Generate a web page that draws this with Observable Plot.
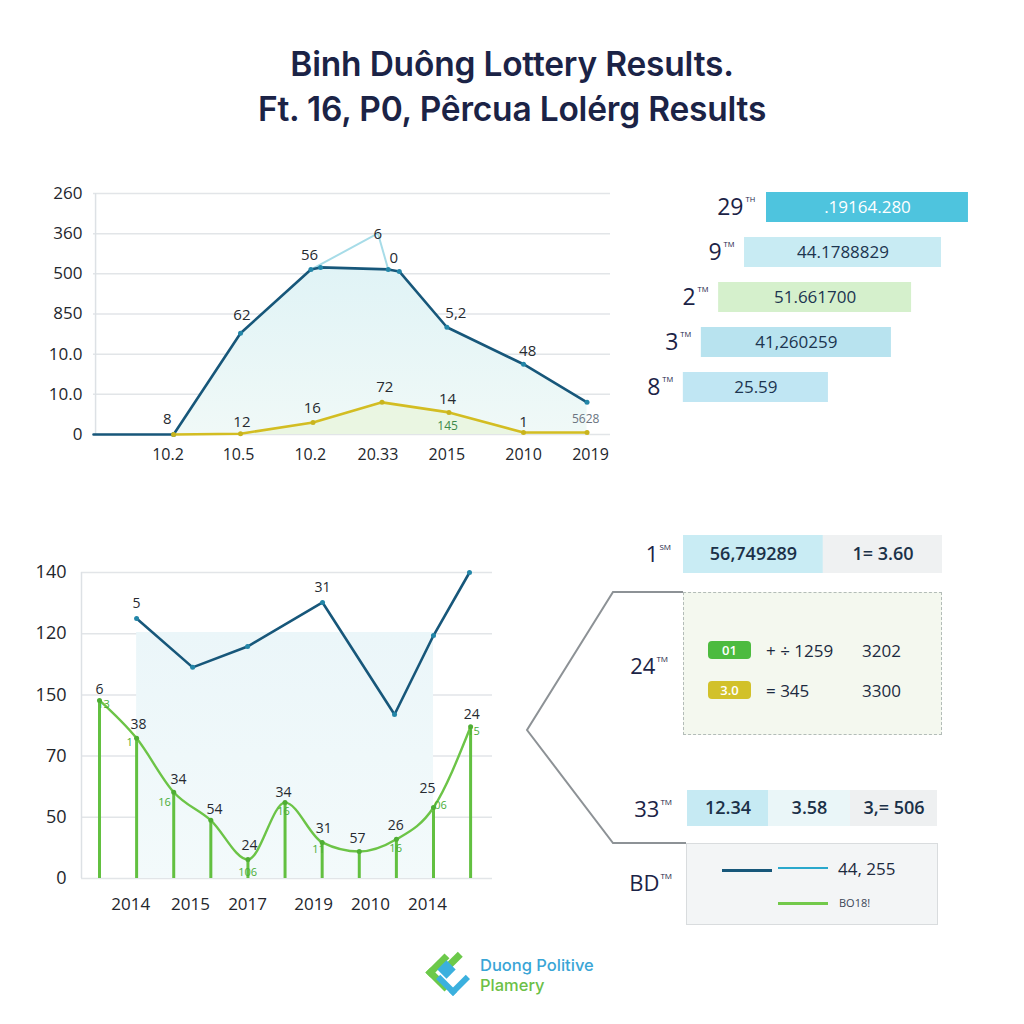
<!DOCTYPE html>
<html>
<head>
<meta charset="utf-8">
<script src="https://cdn.jsdelivr.net/npm/d3@7"></script>
<script src="https://cdn.jsdelivr.net/npm/@observablehq/plot@0.6"></script>
<style>
  html, body { margin: 0; padding: 0; background: #ffffff; }
  #page { position: relative; width: 1024px; height: 1024px; overflow: hidden; background: #ffffff;
          font-family: "Open Sans", "Noto Sans", sans-serif; color: #1b2346; }
  .title { position: absolute; left: 0; width: 1024px; text-align: center; font-family: Inter, "Noto Sans", sans-serif;
           font-weight: 600; font-size: 33.5px; color: #1b2346; letter-spacing: -0.2px; line-height: 1; }
  .rank { position: absolute; text-align: right; font-size: 22px; color: #1b2346; line-height: 1; white-space: nowrap; }
  .rank sup { font-size: 8px; vertical-align: top; position: relative; top: 1px; margin-left: 1px; }
  .dashbox { position: absolute; left: 683px; top: 592px; width: 257px; height: 141px; border: 1.5px dashed #b3bcb8;
             background: #f4f8ef; }
  .krow { position: absolute; left: 24px; height: 18px; display: flex; align-items: center; font-size: 17px; color: #1c2a40; }
  .pill { display: inline-block; width: 43px; height: 18px; border-radius: 4px; color: #fff; font-size: 13px; font-weight: 600;
          text-align: center; line-height: 18px; }
  .legbox { position: absolute; left: 686px; top: 843px; width: 250px; height: 80px; border: 1.5px solid #d9dcde; background: #f3f5f6; }
  .sw { position: absolute; height: 0; }
</style>
</head>
<body>
<div id="page"></div>
<script>
// ---------------- data ----------------
const titleLines = ["Binh Duông Lottery Results.", "Ft. 16, P0, Pêrcua Lolérg Results"];

// top-left line chart
const topXTicks  = [-0.08, 0.94, 1.98, 2.96, 3.96, 5.07, 6.04];
const topXLabels = ["10.2", "10.5", "10.2", "20.33", "2015", "2010", "2019"];
const topYTicks  = [0, 1, 2, 3, 4, 5, 6];
const topYLabels = ["0", "10.0", "10.0", "850", "500", "360", "260"];
const darkX   = [-1.16, 0, 0.97, 1.99, 2.13, 3.11, 3.27, 3.96, 5.07, 5.99];
const darkY   = [0, 0, 2.52, 4.11, 4.16, 4.11, 4.06, 2.67, 1.75, 0.80];
const lightX  = [2.03, 2.96, 3.11];
const lightY  = [4.14, 5.01, 4.11];
const yellowX = [0, 0.97, 2.02, 3.02, 3.99, 5.07, 5.99];
const yellowY = [0, 0.02, 0.30, 0.80, 0.55, 0.05, 0.05];
const topLabelText = ["8", "62", "56", "6", "0", "5,2", "48", "12", "16", "72", "14", "1"];
const topLabelX    = [-0.09, 0.99, 1.97, 2.96, 3.19, 4.09, 5.13, 0.99, 2.01, 3.06, 3.97, 5.07];
const topLabelY    = [0.37, 2.97, 4.46, 4.99, 4.39, 3.02, 2.07, 0.30, 0.65, 1.17, 0.87, 0.30];
const topSmallText = ["145", "5628"];
const topSmallX    = [3.97, 5.97];
const topSmallY    = [0.20, 0.37];

// top-right bars
const rankNums  = ["29", "9", "2", "3", "8"];
const rankSups  = ["TH", "TM", "TM", "TM", "TM"];
const barStart  = [35.0, 28.9, 21.7, 16.9, 11.9];
const barEnd    = [91.1, 83.6, 75.3, 69.7, 52.2];
const barTexts  = [".19164.280", "44.1788829", "51.661700", "41,260259", "25.59"];
const barColors = ["#4ec4de", "#c8ebf3", "#d5f0cc", "#b8e3ef", "#c0e6f3"];

// bottom-left chart
const botXTicks  = [0.84, 2.45, 3.99, 5.77, 7.30, 8.84];
const botXLabels = ["2014", "2015", "2017", "2019", "2010", "2014"];
const botYTicks  = [0, 1, 2, 3, 4, 5];
const botYLabels = ["0", "50", "70", "150", "120", "140"];
const blueX  = [1, 2.51, 3.99, 6.01, 7.95, 9, 9.97];
const blueY  = [4.25, 3.45, 3.79, 4.51, 2.68, 3.97, 5.00];
const greenX = [0, 1, 2, 3, 4, 5, 6, 7, 8, 9, 10];
const greenY = [2.91, 2.29, 1.41, 0.95, 0.31, 1.24, 0.59, 0.44, 0.64, 1.16, 2.48];
const shadeX = [1, 9];
const shadeTop = 4.02;
const botLabelText = ["6", "38", "34", "54", "24", "34", "31", "57", "26", "25", "24", "5", "31"];
const botLabelX    = [0, 1.05, 2.13, 3.10, 4.04, 4.96, 6.04, 6.95, 7.98, 8.84, 10.03, 1.0, 6.01];
const botLabelY    = [3.09, 2.52, 1.62, 1.13, 0.54, 1.41, 0.82, 0.65, 0.87, 1.47, 2.68, 4.49, 4.75];
const botSmallText = ["13", "1", "16", "106", "16", "11", "16", "06", "15"];
const botSmallX    = [0.11, 0.81, 1.75, 3.99, 4.96, 5.90, 7.98, 9.19, 10.08];
const botSmallY    = [2.84, 2.22, 1.24, 0.10, 1.09, 0.47, 0.49, 1.19, 2.40];

// bottom-right table
const row1Label = ["1", "SM"];
const row1Cells = ["56,749289", "1= 3.60"];
const row1Share = [54, 46];
const row1Colors = ["#c9ecf4", "#eff1f2"];
const row2Label = ["24", "TM"];
const keyTexts  = ["01", "3.0"];
const keyColors = ["#4cbb3f", "#d2c12a"];
const keyMid    = ["+ ÷ 1259", "= 345"];
const keyRight  = ["3202", "3300"];
const row3Label = ["33", "TM"];
const row3Cells = ["12.34", "3.58", "3,= 506"];
const row3Share = [32.4, 32.8, 34.8];
const row3Colors = ["#c6eaf3", "#eaf6f8", "#eef0f1"];
const row4Label = ["BD", "TM"];
const legendTexts = ["44, 255", "BO18!"];

// footer logo
const logoLines = ["Duong Politive", "Plamery"];

// ---------------- helpers ----------------
const page = document.getElementById("page");
function place(node, left, top) {
  node.style.position = "absolute";
  node.style.left = left + "px";
  node.style.top = top + "px";
  page.appendChild(node);
  return node;
}
function gradient(id, c0, c1) {
  return () => {
    const defs = d3.create("svg:defs");
    const g = defs.append("linearGradient").attr("id", id).attr("x1", 0).attr("y1", 0).attr("x2", 0).attr("y2", 1);
    g.append("stop").attr("offset", "0%").attr("stop-color", c0);
    g.append("stop").attr("offset", "100%").attr("stop-color", c1);
    return defs.node();
  };
}
const pts = (xs, ys) => xs.map((x, i) => ({x, y: ys[i]}));
const baseStyle = {fontFamily: "'Open Sans', 'Noto Sans', sans-serif", fontSize: "17px", color: "#23262c",
                   background: "transparent", overflow: "visible"};

// ---------------- title ----------------
titleLines.forEach((t, i) => {
  const d = document.createElement("div");
  d.className = "title";
  d.textContent = t;
  d.style.top = (i === 0 ? 48 : 93) + "px";
  page.appendChild(d);
});

// ---------------- chart 1 ----------------
{
  const tickMap = new Map(topXTicks.map((t, i) => [t, topXLabels[i]]));
  const dark = pts(darkX, darkY), light = pts(lightX, lightY), yellow = pts(yellowX, yellowY);
  const chart = Plot.plot({
    width: 630, height: 300, marginLeft: 93, marginRight: 20, marginTop: 23, marginBottom: 36,
    style: baseStyle,
    x: {domain: [-1.16, 6.33]},
    y: {domain: [0, 6]},
    marks: [
      gradient("g1", "#e0f3f6", "#f0f9f7"),
      Plot.gridY(topYTicks, {stroke: "#e2e5e8", strokeOpacity: 1, strokeWidth: 1.5}),
      Plot.ruleX([-1.13], {y1: 0, y2: 6, stroke: "#dde1e5", strokeWidth: 1.5}),
      Plot.areaY(dark.filter(d => d.x >= 0), {x: "x", y: "y", fill: "url(#g1)"}),
      Plot.areaY(yellow, {x: "x", y: "y", fill: "#e8f5dc", fillOpacity: 0.8}),
      Plot.line(light, {x: "x", y: "y", stroke: "#a7dce8", strokeWidth: 2}),
      Plot.line(dark, {x: "x", y: "y", stroke: "#17577a", strokeWidth: 2.6}),
      Plot.line(yellow, {x: "x", y: "y", stroke: "#d3bd22", strokeWidth: 2.6}),
      Plot.dot(dark.slice(1), {x: "x", y: "y", r: 2.5, fill: "#2386a8"}),
      Plot.dot(yellow, {x: "x", y: "y", r: 2.5, fill: "#c9b41e"}),
      Plot.text(topLabelText, {x: (d, i) => topLabelX[i], y: (d, i) => topLabelY[i], text: d => d, fontSize: 15, fill: "#262a30"}),
      Plot.text(topSmallText, {x: (d, i) => topSmallX[i], y: (d, i) => topSmallY[i], text: d => d, fontSize: 12,
                               fill: (d, i) => i === 0 ? "#3d8a4a" : "#6b7480"}),
      Plot.axisX(topXTicks, {tickSize: 0, tickPadding: 14, tickFormat: d => tickMap.get(d), fontSize: 16, label: null}),
      Plot.axisY(topYTicks, {tickSize: 0, tickPadding: 11, tickFormat: d => topYLabels[d], fontSize: 17, label: null})
    ]
  });
  place(chart, 0, 170);
}

// ---------------- chart 2 (top-right bars) ----------------
{
  const data = rankNums.map((r, i) => ({rank: r, sup: rankSups[i], x1: barStart[i], x2: barEnd[i], text: barTexts[i]}));
  const chart = Plot.plot({
    width: 384, height: 236, marginTop: 3, marginBottom: 6, marginLeft: 0, marginRight: 24,
    style: baseStyle,
    x: {domain: [0, 100], axis: null},
    y: {domain: rankNums, axis: null, paddingInner: 0.34, paddingOuter: 0.17},
    color: {domain: rankNums, range: barColors},
    marks: [
      Plot.barX(data, {x1: "x1", x2: "x2", y: "rank", fill: "rank"}),
      Plot.text(data.slice(0, 1), {x: d => (d.x1 + d.x2) / 2, y: "rank", text: "text", fill: "#ffffff", fontSize: 17, fontWeight: 500}),
      Plot.text(data.slice(1), {x: d => (d.x1 + d.x2) / 2, y: "rank", text: "text", fill: "#1c3550", fontSize: 17, fontWeight: 500}),
      Plot.text(data, {x: "x1", y: "rank", text: "rank", dx: -23, textAnchor: "end", fontSize: 23, fill: "#1b2346"}),
      Plot.text(data, {x: "x1", y: "rank", text: "sup", dx: -21, dy: -8, textAnchor: "start", fontSize: 7.5, fill: "#1b2346"})
    ]
  });
  place(chart, 640, 180);
}

// ---------------- chart 3 (bottom-left) ----------------
{
  const tickMap = new Map(botXTicks.map((t, i) => [t, botXLabels[i]]));
  const blue = pts(blueX, blueY), green = pts(greenX, greenY);
  const chart = Plot.plot({
    width: 510, height: 380, marginLeft: 81, marginRight: 18, marginTop: 22, marginBottom: 52,
    style: baseStyle,
    x: {domain: [-0.485, 10.59]},
    y: {domain: [0, 5]},
    marks: [
      gradient("g2", "#ebf6f9", "#f3fafb"),
      Plot.gridY(botYTicks, {stroke: "#e2e5e8", strokeOpacity: 1, strokeWidth: 1.5}),
      Plot.ruleX([-0.485], {y1: 0, y2: 5, stroke: "#dde1e5", strokeWidth: 1.5}),
      Plot.rectY([0], {x1: shadeX[0], x2: shadeX[1], y1: 0, y2: shadeTop, fill: "url(#g2)"}),
      Plot.ruleX(green, {x: "x", y1: 0, y2: "y", stroke: "#62c040", strokeWidth: 3}),
      Plot.line(green, {x: "x", y: "y", stroke: "#6cc447", strokeWidth: 2.4, curve: "monotone-x"}),
      Plot.line(blue, {x: "x", y: "y", stroke: "#17577a", strokeWidth: 2.6}),
      Plot.dot(blue, {x: "x", y: "y", r: 2.5, fill: "#2386a8"}),
      Plot.dot(green, {x: "x", y: "y", r: 2.5, fill: "#4fae34"}),
      Plot.text(botLabelText, {x: (d, i) => botLabelX[i], y: (d, i) => botLabelY[i], text: d => d, fontSize: 14, fill: "#262a30"}),
      Plot.text(botSmallText, {x: (d, i) => botSmallX[i], y: (d, i) => botSmallY[i], text: d => d, fontSize: 11, fill: "#48ad36"}),
      Plot.axisX(botXTicks, {tickSize: 0, tickPadding: 19, tickFormat: d => tickMap.get(d), fontSize: 17, label: null}),
      Plot.axisY(botYTicks, {tickSize: 0, tickPadding: 15, tickFormat: d => botYLabels[d], fontSize: 18, label: null})
    ]
  });
  place(chart, 0, 550);
}

// ---------------- bottom-right table ----------------
function rankLabel(parts, right, centerY) {
  const d = document.createElement("div");
  d.className = "rank";
  d.innerHTML = parts[0] + "<sup>" + parts[1] + "</sup>";
  d.style.right = (1024 - right) + "px";
  d.style.top = (centerY - 11) + "px";
  page.appendChild(d);
}
function cellRow(cells, shares, colors, width, height, left, top, fontSize) {
  const data = cells.map((c, i) => ({c, s: shares[i]}));
  const chart = Plot.plot({
    width, height, margin: 0, style: baseStyle,
    x: {domain: [0, d3.sum(shares)], axis: null},
    color: {domain: cells, range: colors},
    marks: [
      Plot.barX(data, Plot.stackX({x: "s", fill: "c"})),
      Plot.text(data, Plot.stackX({x: "s", text: "c", fontSize, fontWeight: 600, fill: "#1b3148"}))
    ]
  });
  place(chart, left, top);
}

// chevron bracket (decoration)
{
  const svg = d3.create("svg").attr("width", 180).attr("height", 260);
  svg.append("polyline").attr("points", "163,2 93,2 7,140 93,253 166,253")
     .attr("fill", "none").attr("stroke", "#8d9296").attr("stroke-width", 2);
  place(svg.node(), 520, 590);
}

rankLabel(row1Label, 671, 553);
cellRow(row1Cells, row1Share, row1Colors, 259, 38, 683, 535, 18);

{
  const box = document.createElement("div");
  box.className = "dashbox";
  keyTexts.forEach((k, i) => {
    const r = document.createElement("div");
    r.className = "krow";
    r.style.top = (i === 0 ? 48 : 88) + "px";
    r.innerHTML = `<span class="pill" style="background:${keyColors[i]}">${k}</span>` +
                  `<span style="width:96px;margin-left:15px">${keyMid[i]}</span>` +
                  `<span>${keyRight[i]}</span>`;
    box.appendChild(r);
  });
  page.appendChild(box);
}
rankLabel(row2Label, 668, 665);

rankLabel(row3Label, 672, 808);
cellRow(row3Cells, row3Share, row3Colors, 250, 36, 687, 790, 18);

{
  const box = document.createElement("div");
  box.className = "legbox";
  box.innerHTML =
    `<div class="sw" style="left:35px;top:25px;width:50px;border-top:3px solid #17577a"></div>` +
    `<div class="sw" style="left:91px;top:23px;width:50px;border-top:2.5px solid #2aa8cc"></div>` +
    `<div style="position:absolute;left:151px;top:13px;font-size:17px;color:#1c2a40">${legendTexts[0]}</div>` +
    `<div class="sw" style="left:91px;top:58px;width:50px;border-top:3px solid #72c94a"></div>` +
    `<div style="position:absolute;left:152px;top:51px;font-size:11px;color:#3b4656">${legendTexts[1]}</div>`;
  page.appendChild(box);
}
rankLabel(row4Label, 672, 882);

// ---------------- footer logo ----------------
{
  const logo = document.createElement("div");
  logo.style.width = "50px"; logo.style.height = "46px";
  logo.innerHTML =
    `<div style="position:absolute;left:8px;top:10px;width:20px;height:20px;border-left:7px solid #6cc94a;border-bottom:7px solid #6cc94a;transform:rotate(45deg)"></div>` +
    `<div style="position:absolute;left:26px;top:2px;width:7px;height:22px;background:#6cc94a;transform:rotate(45deg)"></div>` +
    `<div style="position:absolute;left:17px;top:14px;width:13px;height:13px;background:#3bb0de;transform:rotate(45deg)"></div>` +
    `<div style="position:absolute;left:18px;top:18px;width:18px;height:18px;border-right:6px solid #3bb0de;border-bottom:6px solid #3bb0de;transform:rotate(45deg)"></div>`;
  place(logo, 423, 949);
  const t = document.createElement("div");
  t.style.fontFamily = "Inter, 'Noto Sans', sans-serif";
  t.style.fontSize = "16.5px"; t.style.lineHeight = "20px"; t.style.fontWeight = 500;
  t.innerHTML = `<div style="color:#3aa5d6">${logoLines[0]}</div><div style="color:#6bbf47">${logoLines[1]}</div>`;
  place(t, 480, 955);
}
</script>
</body>
</html>
